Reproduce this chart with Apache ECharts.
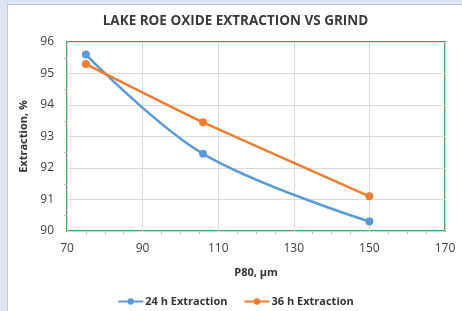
<!DOCTYPE html>
<html>
<head>
<meta charset="utf-8">
<script src="https://cdn.jsdelivr.net/npm/echarts@6/dist/echarts.min.js"></script>
<style>
  body { margin: 0; background: #dce6f3; }
  #main { position: absolute; left: 7px; top: 4px; width: 455px; height: 307px;
          background: #fff; border-left: 1px solid #c4c8cc; border-top: 1px solid #c4c8cc; }
</style>
</head>
<body>
<div id="main"></div>
<script>
// P80 grind size, µm
var grind = [75, 106, 150];
var extraction24 = [95.6, 92.45, 90.3];
var extraction36 = [95.3, 93.45, 91.1];

function pairs(xs, ys) {
    return xs.map(function (x, i) { return [x, ys[i]]; });
}

var myChart = echarts.init(document.getElementById('main'));
var labelFont = { color: '#404040', fontSize: 12, fontFamily: 'Open Sans' };

myChart.setOption({
    title: {
        text: 'LAKE ROE OXIDE EXTRACTION VS GRIND',
        left: 'center',
        top: 4,
        textStyle: { fontFamily: 'Open Sans', fontWeight: 'bold', fontSize: 13.5, color: '#3a3a3a' }
    },
    legend: {
        bottom: 0,
        left: 'center',
        itemWidth: 25,
        itemHeight: 8,
        itemGap: 16,
        textStyle: { fontFamily: 'Open Sans', fontWeight: 'bold', fontSize: 11, color: '#333', padding: [0, 0, 0, -3] }
    },
    grid: {
        left: 59, top: 37, width: 378, height: 189,
        show: true, borderColor: '#44a862', borderWidth: 2, backgroundColor: '#fff'
    },
    xAxis: {
        type: 'value',
        min: 70, max: 170, interval: 20,
        name: 'P80, µm',
        nameLocation: 'middle',
        nameGap: 36,
        nameTextStyle: { fontFamily: 'Open Sans', fontWeight: 'bold', fontSize: 11, color: '#333' },
        axisLine: { show: false },
        axisTick: { show: false },
        minorTick: { show: true, splitNumber: 4, length: 3, lineStyle: { color: '#bbb' } },
        axisLabel: Object.assign({ margin: 12 }, labelFont),
        splitLine: { lineStyle: { color: '#d9d9d9' } }
    },
    yAxis: {
        type: 'value',
        min: 90, max: 96, interval: 1,
        name: 'Extraction, %',
        nameLocation: 'middle',
        nameGap: 33,
        nameTextStyle: { fontFamily: 'Open Sans', fontWeight: 'bold', fontSize: 11, color: '#333' },
        axisLine: { show: false },
        axisTick: { show: false },
        minorTick: { show: true, splitNumber: 2, length: 3, lineStyle: { color: '#bbb' } },
        axisLabel: Object.assign({ margin: 13 }, labelFont),
        splitLine: { lineStyle: { color: '#d9d9d9' } }
    },
    series: [{
        name: '24 h Extraction',
        type: 'line',
        smooth: 0.35,
        data: pairs(grind, extraction24),
        symbol: 'circle',
        symbolSize: 8,
        itemStyle: { color: '#5b9bd5' },
        lineStyle: { width: 2.5, color: '#5b9bd5' }
    }, {
        name: '36 h Extraction',
        type: 'line',
        smooth: 0.15,
        data: pairs(grind, extraction36),
        symbol: 'circle',
        symbolSize: 8,
        itemStyle: { color: '#ed7d31' },
        lineStyle: { width: 2.5, color: '#ed7d31' }
    }]
});
</script>
</body>
</html>
